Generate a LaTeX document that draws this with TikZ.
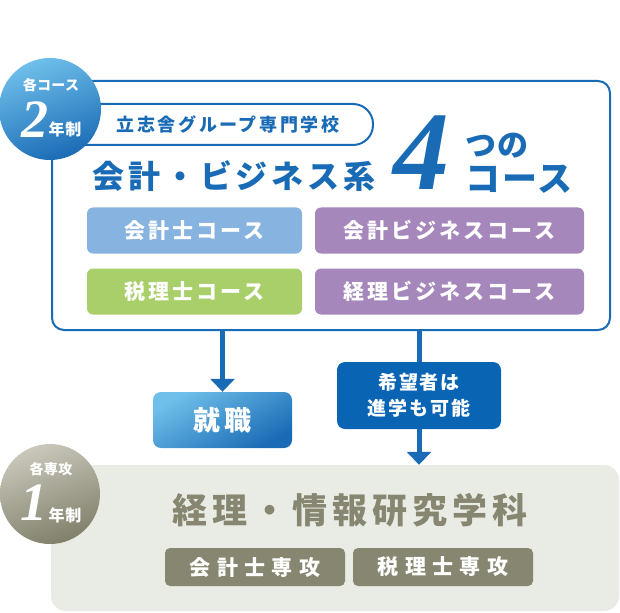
\documentclass[tikz,border=0pt]{standalone}
\usepackage{fontspec}
\newfontfamily\jp{Noto Sans CJK JP}
\newfontfamily\chiffre{Liberation Serif}
\usetikzlibrary{arrows.meta}
\definecolor{bleu}{HTML}{1A6BB5}
\definecolor{bleufonce}{HTML}{0A64B4}
\definecolor{ciel}{HTML}{6FBFEA}
\definecolor{cielcours}{HTML}{86B3E0}
\definecolor{vert}{HTML}{A8CF6A}
\definecolor{violet}{HTML}{A587BB}
\definecolor{olive}{HTML}{878670}
\definecolor{oliveclair}{HTML}{C9C8BB}
\definecolor{fondgris}{HTML}{E9EBE5}
\newcommand{\jpt}[3][]{\jp\bfseries\fontsize{#2}{#2}\selectfont\addfontfeature{LetterSpace=#3}}
\begin{document}
\begin{tikzpicture}[x=1pt,y=-1pt,
	cours/.style={rounded corners=6pt,minimum width=215pt,minimum height=46pt,text=white,font=\jpt{21}{14}},
	specialite/.style={rounded corners=5pt,fill=olive,minimum width=180pt,minimum height=38pt,text=white,font=\jpt{21}{30}},
	fleche/.style={bleu,line width=5pt,-{Triangle[width=24pt,length=13pt]}}]
	\useasboundingbox (0,0) rectangle (620,612);
	% le cadre des cours de 2 ans
	\node[draw=bleu,line width=2pt,rounded corners=12pt,minimum width=558pt,minimum height=249pt,fill=white] (cadre) at (331,205.5) {};
	\node[draw=bleu,line width=2pt,rounded corners=20pt,minimum width=313pt,minimum height=41pt] (groupe) at (216.5,124.5) {};
	\node[text=bleu,font=\jpt{18}{14}] (groupetxt) at (228,124) {立志舎グループ専門学校};
	\node[text=bleu,font=\jpt{32}{12}] (titre) at (234,176) {会計・ビジネス系};
	\node[text=bleu,inner sep=0pt,font=\chiffre\bfseries\itshape\fontsize{112}{112}\selectfont] (quatre) at (421,153) {4};
	\node[text=bleu,font=\jpt{31}{4}] (tsuno) at (497,146) {つの};
	\node[text=bleu,font=\jpt{35}{4}] (course) at (519,179) {コース};
	% les quatre cours
	\node[cours,fill=cielcours] (kaikeishi) at (194.5,230.5) {会計士コース};
	\node[cours,fill=violet,minimum width=269pt] (kaikeibiz) at (449.5,230.5) {会計ビジネスコース};
	\node[cours,fill=vert] (zeirishi) at (194.5,291.5) {税理士コース};
	\node[cours,fill=violet,minimum width=269pt] (keiribiz) at (449.5,291.5) {経理ビジネスコース};
	% la pastille bleue
	\node[circle,minimum size=102pt,top color=ciel,bottom color=bleu,shading angle=20] (deux) at (50,109) {};
	\node[text=white,font=\jpt{14}{2}] (deuxhaut) at (51,85) {各コース};
	\node[text=white,inner sep=0pt,font=\chiffre\bfseries\itshape\fontsize{54}{54}\selectfont] (deuxnum) at (35,120) {2};
	\node[text=white,font=\jpt{16}{4}] (deuxan) at (65,129) {年制};
	% le cadre du cours d'un an
	\node[fill=fondgris,rounded corners=15pt,minimum width=568pt,minimum height=146pt] (ecole) at (335,538) {};
	\node[text=olive,font=\jpt{35}{14}] (ecoletxt) at (350,510) {経理・情報研究学科};
	\node[specialite] (kaikeisenko) at (255,567) {会計士専攻};
	\node[specialite] (zeirisenko) at (443,567) {税理士専攻};
	% les sorties
	\node[rounded corners=8pt,minimum width=139pt,minimum height=56pt,top color=ciel,bottom color=bleu,shading angle=30,text=white,font=\jpt{27}{12}] (shushoku) at (222.5,420) {就職};
	\draw[fleche] (cadre.south -| shushoku.north) -- (shushoku.north);
	\draw[fleche] (cadre.south -| 419,0) -- (ecole.north -| 419,0);
	\node[fill=bleufonce,rounded corners=8pt,minimum width=164pt,minimum height=67pt,text=white,align=center,font=\jp\bfseries\fontsize{19}{26}\selectfont\addfontfeature{LetterSpace=10}] (kibou) at (419,395.5) {希望者は\\進学も可能};
	% la pastille grise
	\node[circle,minimum size=100pt,top color=oliveclair,bottom color=olive!95!black,shading angle=20] (un) at (50,494) {};
	\node[text=white,font=\jpt{14}{2}] (unhaut) at (51,469) {各専攻};
	\node[text=white,inner sep=0pt,font=\chiffre\bfseries\itshape\fontsize{54}{54}\selectfont] (unnum) at (34,503) {1};
	\node[text=white,font=\jpt{16}{4}] (unan) at (65,515) {年制};
\end{tikzpicture}
\end{document}
